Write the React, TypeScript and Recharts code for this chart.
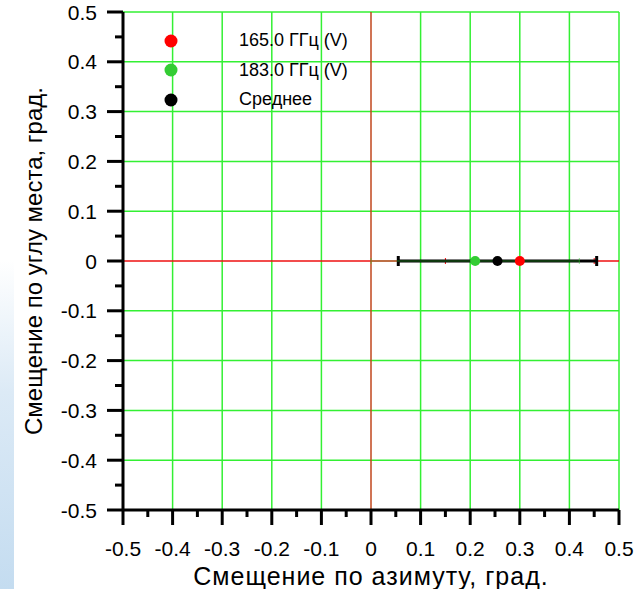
import {
  ErrorBar,
  ReferenceLine,
  Scatter,
  ScatterChart,
  XAxis,
  YAxis,
} from "recharts";

const seriesNames = ["165.0 ГГц (V)", "183.0 ГГц (V)", "Среднее"];
const seriesColors = ["#ff0000", "#33cc33", "#000000"];
const azimuth = [0.3, 0.21, 0.255];
const elevation = [0, 0, 0];
const azimuthErr = [0.15, 0.21, 0.2];

const axisTicks = [
  -0.5, -0.45, -0.4, -0.35, -0.3, -0.25, -0.2, -0.15, -0.1, -0.05, 0, 0.05, 0.1, 0.15, 0.2, 0.25, 0.3,
  0.35, 0.4, 0.45, 0.5,
];
const gridTicks = [-0.5, -0.4, -0.3, -0.2, -0.1, 0.1, 0.2, 0.3, 0.4, 0.5];

const FONT = '"Liberation Sans", Arial, sans-serif';
const GRID = "#33f033";

const isMajor = (v: number) => Math.abs(Math.round(v * 10) - v * 10) < 1e-6;
const fmt = (v: number) => (Math.abs(v) < 1e-9 ? "0" : v.toFixed(1));

function YTick(props: any) {
  const { x, y, payload } = props;
  const major = isMajor(payload.value);
  return (
    <g>
      <line x1={x - (major ? 16 : 8)} x2={x} y1={y} y2={y} stroke="#000" strokeWidth={3} />
      {major && (
        <text x={x - 26} y={y} textAnchor="end" dominantBaseline="central" fontSize={21} fontFamily={FONT} fill="#000">
          {fmt(payload.value)}
        </text>
      )}
    </g>
  );
}

function XTick(props: any) {
  const { x, y, payload } = props;
  const major = isMajor(payload.value);
  return (
    <g>
      <line x1={x} x2={x} y1={y} y2={y + (major ? 15 : 7)} stroke="#000" strokeWidth={3} />
      {major && (
        <text x={x} y={y + 38} textAnchor="middle" dominantBaseline="central" fontSize={21} fontFamily={FONT} fill="#000">
          {fmt(payload.value)}
        </text>
      )}
    </g>
  );
}

function LegendBox() {
  return (
    <div style={{ position: "absolute", left: 160, top: 26, fontFamily: FONT, fontSize: 18, color: "#000" }}>
      {seriesNames.map((name, i) => (
        <div key={name} style={{ display: "flex", alignItems: "center", height: 29.5 }}>
          <svg width={79} height={14}>
            <circle cx={11} cy={7} r={6.5} fill={seriesColors[i]} />
          </svg>
          <span>{name}</span>
        </div>
      ))}
    </div>
  );
}

export default function App() {
  const points = seriesNames.map((name, i) => ({
    name,
    x: azimuth[i],
    y: elevation[i],
    err: azimuthErr[i],
  }));
  // error bars under the dots: red, thick mean, then thin green on top
  const barOrder = [0, 2, 1];

  return (
    <div style={{ position: "absolute", left: 0, top: 0, width: 636, height: 589, background: "#fff" }}>
      <div
        style={{
          position: "absolute",
          left: 0,
          top: 260,
          width: 14,
          height: 329,
          background: "linear-gradient(180deg, rgba(215,232,246,0) 0%, #dceaf6 40%, #c4dcf0 100%)",
        }}
      />
      <ScatterChart width={636} height={589} margin={{ top: 12, right: 17, left: 0, bottom: 0 }}>
        <XAxis
          type="number"
          dataKey="x"
          domain={[-0.5, 0.5]}
          ticks={axisTicks}
          interval={0}
          height={79}
          tickSize={0}
          tickMargin={0}
          tickLine={false}
          axisLine={{ stroke: "#000", strokeWidth: 3 }}
          tick={<XTick />}
          label={(p: any) => {
            const vb = p.viewBox;
            return (
              <text
                x={vb.x + vb.width / 2}
                y={576}
                textAnchor="middle"
                dominantBaseline="central"
                fontSize={25}
                letterSpacing={1}
                fontFamily={FONT}
                fill="#000"
              >
                Смещение по азимуту, град.
              </text>
            );
          }}
        />
        <YAxis
          type="number"
          dataKey="y"
          domain={[-0.5, 0.5]}
          ticks={axisTicks}
          interval={0}
          width={123}
          tickSize={0}
          tickMargin={0}
          tickLine={false}
          axisLine={{ stroke: "#000", strokeWidth: 3 }}
          tick={<YTick />}
          label={(p: any) => {
            const vb = p.viewBox;
            const cy = vb.y + vb.height / 2;
            return (
              <text
                x={33}
                y={cy}
                transform={`rotate(-90, 33, ${cy})`}
                textAnchor="middle"
                dominantBaseline="central"
                fontSize={24}
                fontFamily={FONT}
                fill="#000"
              >
                Смещение по углу места, град.
              </text>
            );
          }}
        />
        {gridTicks.map((t) => (
          <ReferenceLine key={"gx" + t} x={t} stroke={GRID} strokeWidth={1.5} />
        ))}
        {gridTicks.map((t) => (
          <ReferenceLine key={"gy" + t} y={t} stroke={GRID} strokeWidth={1.5} />
        ))}
        <ReferenceLine x={0} stroke="#c0461c" strokeWidth={1.5} />
        <ReferenceLine y={0} stroke="#ee1010" strokeWidth={1.3} />
        {barOrder.map((i) => (
          <Scatter
            key={"err" + i}
            data={[points[i]]}
            isAnimationActive={false}
            legendType="none"
            shape={() => <g />}
          >
            <ErrorBar
              dataKey="err"
              direction="x"
              width={i === 2 ? 5 : 3}
              stroke={seriesColors[i]}
              strokeWidth={i === 2 ? 3 : 1}
              strokeOpacity={i === 1 ? 0.55 : 1}
              isAnimationActive={false}
            />
          </Scatter>
        ))}
        {points.map((p, i) => (
          <Scatter
            key={p.name}
            name={p.name}
            data={[p]}
            fill={seriesColors[i]}
            isAnimationActive={false}
            shape={(s: any) => <circle cx={s.cx} cy={s.cy} r={5} fill={seriesColors[i]} />}
          />
        ))}
      </ScatterChart>
      <LegendBox />
    </div>
  );
}
